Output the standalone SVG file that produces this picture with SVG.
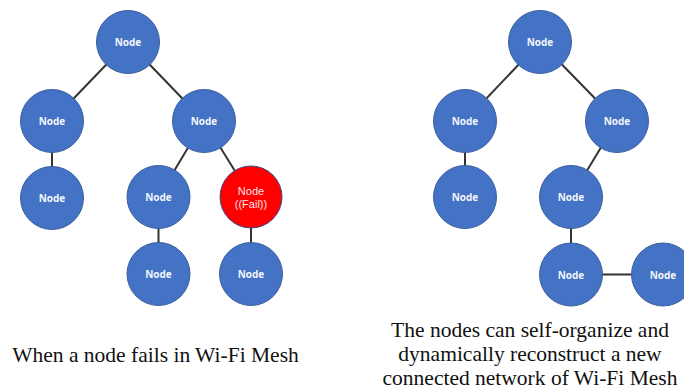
<svg xmlns="http://www.w3.org/2000/svg" width="684" height="389" viewBox="0 0 684 389">
<style>
.n{fill:#4472C4;stroke:#3A5E9E;stroke-width:1}
.f{fill:#FF0000;stroke:#3A4A8E;stroke-width:1}
.t{font-family:"Open Sans","Liberation Sans",sans-serif;font-size:10px;font-weight:bold;fill:#F2F6FC;text-anchor:middle}
.tf{font-family:"Liberation Sans",Arial,sans-serif;font-size:11px;fill:#FFE6E6;text-anchor:middle}
.e{stroke:#333;stroke-width:2;fill:none}
.c{font-family:"Liberation Serif","Times New Roman",serif;font-size:21.5px;fill:#111;text-anchor:middle}
</style>
<rect width="684" height="389" fill="#fff"/>
<g id="connectors">
<line class="e" x1="128" y1="42" x2="52" y2="121"/>
<line class="e" x1="128" y1="42" x2="204" y2="121"/>
<line class="e" x1="52" y1="121" x2="52" y2="198"/>
<line class="e" x1="204" y1="121" x2="158.5" y2="197"/>
<line class="e" x1="204" y1="121" x2="251" y2="197"/>
<line class="e" x1="158.5" y1="197" x2="158.5" y2="274"/>
<line class="e" x1="251" y1="197" x2="251" y2="274"/>
<line class="e" x1="540" y1="42" x2="465" y2="121"/>
<line class="e" x1="540" y1="42" x2="617" y2="121"/>
<line class="e" x1="465" y1="121" x2="465" y2="197"/>
<line class="e" x1="617" y1="121" x2="571" y2="197"/>
<line class="e" x1="571" y1="197" x2="571" y2="274.5"/>
<line class="e" x1="571" y1="274.5" x2="663" y2="274.5"/>
</g>
<g id="L-root"><circle class="n" cx="128" cy="42" r="31.5"/><text class="t" x="128" y="46">Node</text></g>
<g id="L-a"><circle class="n" cx="52" cy="121" r="31.5"/><text class="t" x="52" y="125">Node</text></g>
<g id="L-b"><circle class="n" cx="204" cy="121" r="31.5"/><text class="t" x="204" y="125">Node</text></g>
<g id="L-a1"><circle class="n" cx="52" cy="198" r="31.5"/><text class="t" x="52" y="202">Node</text></g>
<g id="L-b1"><circle class="n" cx="158.5" cy="197" r="31.5"/><text class="t" x="158.5" y="201">Node</text></g>
<g id="L-fail"><circle class="f" cx="251" cy="197" r="31"/><text class="tf" x="251" y="195">Node</text><text class="tf" x="251" y="208">((Fail))</text></g>
<g id="L-b1a"><circle class="n" cx="158.5" cy="274" r="31.5"/><text class="t" x="158.5" y="278">Node</text></g>
<g id="L-fa"><circle class="n" cx="251" cy="274" r="31.5"/><text class="t" x="251" y="278">Node</text></g>
<g id="R-root"><circle class="n" cx="540" cy="42" r="31.5"/><text class="t" x="540" y="46">Node</text></g>
<g id="R-a"><circle class="n" cx="465" cy="121" r="31.5"/><text class="t" x="465" y="125">Node</text></g>
<g id="R-b"><circle class="n" cx="617" cy="121" r="31.5"/><text class="t" x="617" y="125">Node</text></g>
<g id="R-a1"><circle class="n" cx="465" cy="197" r="31.5"/><text class="t" x="465" y="201">Node</text></g>
<g id="R-b1"><circle class="n" cx="571" cy="197" r="31.5"/><text class="t" x="571" y="201">Node</text></g>
<g id="R-b1a"><circle class="n" cx="571" cy="274.5" r="31.5"/><text class="t" x="571" y="278.5">Node</text></g>
<g id="R-c"><circle class="n" cx="663" cy="274.5" r="31.5"/><text class="t" x="663" y="278.5">Node</text></g>
<g id="captions">
<text class="c" x="155.5" y="362">When a node fails in Wi-Fi Mesh</text>
<text class="c" x="530" y="337">The nodes can self-organize and</text>
<text class="c" x="530" y="361">dynamically reconstruct a new</text>
<text class="c" x="530" y="385">connected network of Wi-Fi Mesh</text>
</g>
</svg>
